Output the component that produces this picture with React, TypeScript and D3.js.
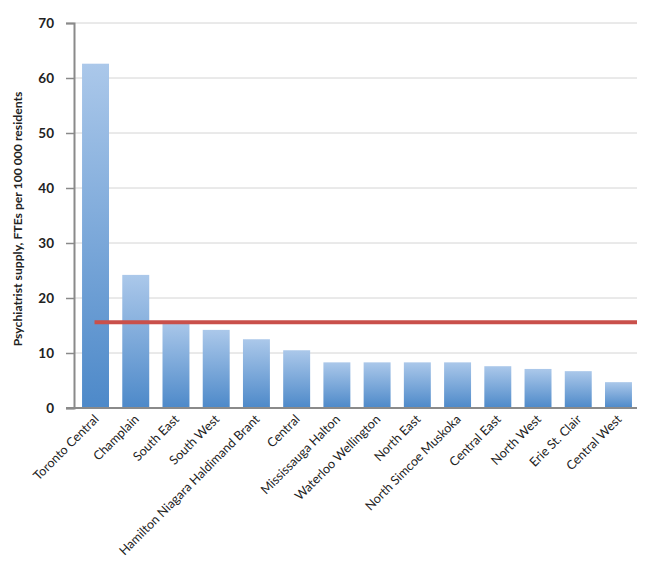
import { useRef, useEffect } from 'react';
import * as d3 from 'd3';

const WIDTH = 645;
const HEIGHT = 565;

const regions = [
  'Toronto Central', 'Champlain', 'South East', 'South West',
  'Hamilton Niagara Haldimand Brant', 'Central', 'Mississauga Halton',
  'Waterloo Wellington', 'North East', 'North Simcoe Muskoka',
  'Central East', 'North West', 'Erie St. Clair', 'Central West',
];
const supply = [62.6, 24.2, 15.8, 14.2, 12.5, 10.5, 8.3, 8.3, 8.3, 8.3, 7.6, 7.1, 6.7, 4.7];
const provincialAverage = 15.6;
const yTicks = [0, 10, 20, 30, 40, 50, 60, 70];
const yLabel = 'Psychiatrist supply, FTEs per 100 000 residents';

const FONT = 'Lato, "Open Sans", sans-serif';

const App = () => {
  const svgRef = useRef<SVGSVGElement>(null);

  useEffect(() => {
    const svg = d3.select(svgRef.current);
    svg.selectAll('*').remove();

    const left = 74, right = 640, top = 23, bottom = 408;

    const x = d3.scaleBand().domain(regions).range([left, right]).paddingInner(0.33).paddingOuter(0.2);
    const y = d3.scaleLinear().domain([0, 70]).range([bottom, top]);

    const defs = svg.append('defs');
    const grad = defs.append('linearGradient')
      .attr('id', 'barGrad').attr('x1', 0).attr('y1', 0).attr('x2', 0).attr('y2', 1);
    grad.append('stop').attr('offset', '0%').attr('stop-color', '#abc8ea');
    grad.append('stop').attr('offset', '100%').attr('stop-color', '#4d89c9');

    // gridlines
    svg.append('g')
      .selectAll('line')
      .data(yTicks.filter(d => d > 0))
      .join('line')
      .attr('x1', left).attr('x2', right)
      .attr('y1', d => y(d)).attr('y2', d => y(d))
      .attr('stroke', '#d4d4d4').attr('stroke-width', 1);

    // bars
    svg.append('g')
      .selectAll('rect')
      .data(supply)
      .join('rect')
      .attr('x', (d, i) => x(regions[i]))
      .attr('y', d => y(d))
      .attr('width', x.bandwidth())
      .attr('height', d => bottom - y(d))
      .attr('fill', 'url(#barGrad)');

    // provincial average line
    svg.append('line')
      .attr('x1', x(regions[0]) + x.bandwidth() / 2 - 1)
      .attr('x2', right - 3)
      .attr('y1', y(provincialAverage)).attr('y2', y(provincialAverage))
      .attr('stroke', '#c9504b').attr('stroke-width', 4);

    // y axis
    const yAxis = svg.append('g')
      .attr('transform', `translate(${left},0)`)
      .call(d3.axisLeft(y).tickValues(yTicks).tickSize(8).tickPadding(12).tickFormat(d3.format('d')));
    yAxis.select('.domain').attr('stroke', '#8a8a8a').attr('stroke-width', 2);
    yAxis.selectAll('.tick line').attr('stroke', '#8a8a8a').attr('stroke-width', 1.5);
    yAxis.selectAll('.tick text')
      .attr('font-family', FONT).attr('font-size', 13.5).attr('font-weight', 'bold').attr('fill', '#222');

    // x axis line
    svg.append('line')
      .attr('x1', left - 8).attr('x2', right)
      .attr('y1', bottom).attr('y2', bottom)
      .attr('stroke', '#8a8a8a').attr('stroke-width', 2);

    // x labels
    svg.append('g')
      .selectAll('text')
      .data(regions)
      .join('text')
      .attr('transform', d => `translate(${x(d) + x.bandwidth() / 2 + 4},${bottom + 12}) rotate(-45)`)
      .attr('text-anchor', 'end')
      .attr('font-family', FONT).attr('font-size', 12.6).attr('fill', '#222')
      .text(d => d);

    // y label
    svg.append('text')
      .attr('transform', `translate(22,219) rotate(-90)`)
      .attr('text-anchor', 'middle')
      .attr('font-family', FONT).attr('font-size', 12.2).attr('font-weight', 'bold').attr('fill', '#222')
      .text(yLabel);
  }, []);

  return (
    <svg ref={svgRef} width={WIDTH} height={HEIGHT} style={{ display: 'block', margin: -8 }}></svg>
  );
};

export default App;
